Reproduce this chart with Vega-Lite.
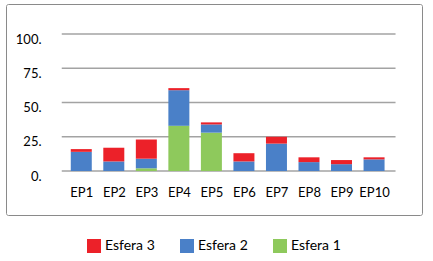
{
  "$schema": "https://vega.github.io/schema/vega-lite/v6.json",
  "width": 416,
  "height": 211,
  "autosize": {"type": "none"},
  "padding": {"left": 6, "top": 4, "right": 11, "bottom": 46},
  "background": "white",
  "config": {
    "view": {"stroke": "#8a8a8a", "strokeWidth": 1, "cornerRadius": 2},
    "font": "Lato"
  },
  "layer": [
    {
      "data": {"values": [{"g": 0}, {"g": 25}, {"g": 50}, {"g": 75}, {"g": 100}]},
      "mark": {"type": "rule", "color": "#a3a3a3", "strokeWidth": 1.5},
      "encoding": {
        "y": {"field": "g", "type": "quantitative"},
        "x": {"datum": 0.4, "type": "quantitative"},
        "x2": {"datum": 10.66}
      }
    },
    {
      "data": {
        "values": [
          {"i": 1, "serie": "Esfera 1", "k": 1, "v": 0},
          {"i": 1, "serie": "Esfera 2", "k": 2, "v": 14},
          {"i": 1, "serie": "Esfera 3", "k": 3, "v": 2},
          {"i": 2, "serie": "Esfera 1", "k": 1, "v": 0},
          {"i": 2, "serie": "Esfera 2", "k": 2, "v": 7},
          {"i": 2, "serie": "Esfera 3", "k": 3, "v": 10},
          {"i": 3, "serie": "Esfera 1", "k": 1, "v": 2},
          {"i": 3, "serie": "Esfera 2", "k": 2, "v": 7},
          {"i": 3, "serie": "Esfera 3", "k": 3, "v": 14},
          {"i": 4, "serie": "Esfera 1", "k": 1, "v": 33},
          {"i": 4, "serie": "Esfera 2", "k": 2, "v": 26},
          {"i": 4, "serie": "Esfera 3", "k": 3, "v": 1.5},
          {"i": 5, "serie": "Esfera 1", "k": 1, "v": 28},
          {"i": 5, "serie": "Esfera 2", "k": 2, "v": 6},
          {"i": 5, "serie": "Esfera 3", "k": 3, "v": 1.5},
          {"i": 6, "serie": "Esfera 1", "k": 1, "v": 0},
          {"i": 6, "serie": "Esfera 2", "k": 2, "v": 7},
          {"i": 6, "serie": "Esfera 3", "k": 3, "v": 6},
          {"i": 7, "serie": "Esfera 1", "k": 1, "v": 0},
          {"i": 7, "serie": "Esfera 2", "k": 2, "v": 20},
          {"i": 7, "serie": "Esfera 3", "k": 3, "v": 5},
          {"i": 8, "serie": "Esfera 1", "k": 1, "v": 0},
          {"i": 8, "serie": "Esfera 2", "k": 2, "v": 6.5},
          {"i": 8, "serie": "Esfera 3", "k": 3, "v": 3.5},
          {"i": 9, "serie": "Esfera 1", "k": 1, "v": 0},
          {"i": 9, "serie": "Esfera 2", "k": 2, "v": 5},
          {"i": 9, "serie": "Esfera 3", "k": 3, "v": 3},
          {"i": 10, "serie": "Esfera 1", "k": 1, "v": 0},
          {"i": 10, "serie": "Esfera 2", "k": 2, "v": 8.5},
          {"i": 10, "serie": "Esfera 3", "k": 3, "v": 1.5}
        ]
      },
      "mark": {"type": "bar", "width": 21},
      "encoding": {
        "x": {
          "field": "i",
          "type": "quantitative",
          "scale": {"domain": [-1.16, 11.32], "nice": false, "zero": false},
          "axis": {
            "title": null,
            "values": [1, 2, 3, 4, 5, 6, 7, 8, 9, 10],
            "labelExpr": "'EP' + datum.value",
            "grid": false,
            "domain": false,
            "ticks": false,
            "labelAngle": 0,
            "labelFlush": false,
            "labelOverlap": false,
            "labelFont": "Lato",
            "labelFontSize": 13,
            "labelColor": "#000000",
            "labelPadding": 2,
            "offset": -31
          }
        },
        "y": {
          "field": "v",
          "type": "quantitative",
          "stack": "zero",
          "scale": {"domain": [-32.1, 121.9], "nice": false, "zero": false},
          "axis": {
            "title": null,
            "values": [0, 25, 50, 75, 100],
            "labelExpr": "datum.value + '.'",
            "grid": false,
            "domain": false,
            "ticks": false,
            "labelFont": "Lato",
            "labelFontSize": 13,
            "labelColor": "#000000",
            "labelPadding": 2,
            "labelOffset": 5,
            "offset": -37
          }
        },
        "color": {
          "field": "serie",
          "type": "nominal",
          "scale": {
            "domain": ["Esfera 3", "Esfera 2", "Esfera 1"],
            "range": ["#ec2129", "#4a80c8", "#8ec95c"]
          },
          "legend": {
            "title": null,
            "orient": "none",
            "legendX": 81,
            "legendY": 235,
            "direction": "horizontal",
            "symbolType": "square",
            "symbolSize": 196,
            "symbolStrokeWidth": 0,
            "symbolOpacity": 1,
            "labelFont": "Lato",
            "labelFontSize": 14,
            "labelColor": "#000000",
            "labelOffset": 4,
            "columnPadding": 25
          }
        },
        "order": {"field": "k", "type": "quantitative", "sort": "ascending"}
      }
    }
  ]
}
